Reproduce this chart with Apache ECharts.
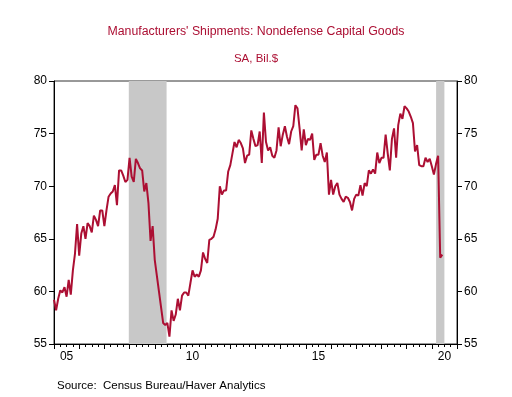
<!DOCTYPE html>
<html>
<head>
<meta charset="utf-8">
<script src="https://cdn.jsdelivr.net/npm/echarts@6/dist/echarts.min.js"></script>
<style>
html,body{margin:0;padding:0;background:#fff;}
#chart{width:512px;height:397px;}
</style>
</head>
<body>
<div id="chart"></div>
<script>
// Monthly values, Jan 2005 .. Jun 2020 (Bil.$, SA)
const startYear = 2005;
const shipments = [
  59.2, 58.2, 59.3, 60.1, 59.9, 60.4, 59.5, 61.1, 59.7, 62.0, 63.6, 66.4,
  63.4, 65.5, 66.2, 65.0, 66.5, 66.2, 65.6, 67.2, 66.8, 66.2, 67.7, 67.7,
  66.2, 67.7, 69.0, 69.3, 69.5, 70.1, 68.2, 71.5, 71.5, 71.0, 70.4, 70.6,
  72.7, 70.9, 70.4, 72.6, 72.2, 71.7, 71.5, 69.5, 70.3, 68.4, 64.8, 66.2,
  63.0, 61.5, 60.0, 58.5, 57.0, 56.8, 57.0, 55.7, 58.2, 57.2, 57.8, 59.3,
  58.2, 59.6, 59.9, 59.9, 59.6, 60.8, 62.0, 61.4, 61.6, 61.4, 62.0, 63.7,
  63.1, 62.7, 64.9, 65.0, 65.2, 65.9, 66.9, 70.0, 69.2, 69.6, 69.6, 71.4,
  72.0, 73.1, 74.2, 73.7, 74.4, 74.1, 73.6, 72.2, 72.9, 73.0, 75.3, 74.5,
  73.8, 73.9, 75.2, 72.2, 77.0, 74.2, 73.4, 73.7, 72.9, 72.7, 73.4, 75.6,
  73.8, 74.9, 75.7, 74.7, 74.0, 75.2, 75.7, 77.7, 77.4, 75.5, 73.4, 75.4,
  73.9, 74.5, 74.4, 75.0, 72.5, 73.0, 73.0, 74.1, 72.9, 72.3, 73.2, 69.2,
  70.6, 69.2, 70.0, 70.3, 69.2, 68.8, 68.5, 69.0, 68.9, 68.5, 67.7, 68.8,
  69.2, 69.1, 70.1, 69.1, 70.3, 70.0, 71.5, 71.2, 71.6, 71.2, 73.2, 72.2,
  72.7, 72.7, 74.9, 73.1, 71.5, 74.5, 75.5, 72.7, 75.8, 76.9, 76.4, 77.6,
  77.4, 77.1, 76.6, 76.0, 73.3, 73.9, 72.0, 71.9, 71.9, 72.7, 72.3, 72.6,
  71.9, 71.1, 72.1, 72.9, 63.2, 63.5
];
// Recession shading (decimal years)
const recessions = [[2007.97, 2009.47], [2020.17, 2020.5]];
// Axis tick labels
const yearLabels = ['05','06','07','08','09','10','11','12','13','14','15','16','17','18','19','20'];
const yTicks = [55, 60, 65, 70, 75, 80];

const seriesData = shipments.map((v, i) => [startYear + i / 12, v]);

const red = '#AC0F33';
const fontFam = '"Liberation Sans", Arial, sans-serif';

const chart = echarts.init(document.getElementById('chart'), null, {renderer: 'canvas'});
const yAxisCommon = {
  type: 'value', min: yTicks[0], max: yTicks[yTicks.length - 1], interval: 5,
  splitLine: {show: false},
  axisLine: {show: true, lineStyle: {color: '#000', width: 1}},
  axisTick: {show: true, inside: false, length: 5, lineStyle: {color: '#000'}},
  axisLabel: {color: '#000', fontSize: 12, fontFamily: fontFam, margin: 7}
};
chart.setOption({
  animation: false,
  backgroundColor: '#fff',
  title: [
    {text: "Manufacturers' Shipments: Nondefense Capital Goods", left: 'center', top: 26, padding: 0,
     textStyle: {color: red, fontSize: 12.3, fontWeight: 'normal', fontFamily: fontFam}},
    {text: 'SA, Bil.$', left: 'center', top: 53, padding: 0,
     textStyle: {color: red, fontSize: 11.5, fontWeight: 'normal', fontFamily: fontFam}},
    {text: 'Source:  Census Bureau/Haver Analytics', left: 57, top: 380, padding: 0,
     textStyle: {color: '#000', fontSize: 11.5, fontWeight: 'normal', fontFamily: fontFam}}
  ],
  grid: {left: 54, right: 55, top: 81, bottom: 53, show: true, borderColor: '#333', borderWidth: 1, backgroundColor: 'transparent'},
  xAxis: [
    {
      type: 'value', min: 2005, max: 2021, interval: 1,
      splitLine: {show: false},
      axisLine: {show: true, lineStyle: {color: '#000', width: 1}},
      axisTick: {show: true, length: 5, lineStyle: {color: '#000'}},
      minorTick: {show: true, splitNumber: 4, length: 3, lineStyle: {color: '#000'}},
      minorSplitLine: {show: false},
      axisLabel: {show: false}
    },
    {
      type: 'category', position: 'bottom', data: yearLabels, boundaryGap: true,
      axisLine: {show: false}, axisTick: {show: false}, splitLine: {show: false},
      axisLabel: {
        color: '#000', fontSize: 12, fontFamily: fontFam, margin: 7,
        interval: (idx) => idx % 5 === 0
      }
    }
  ],
  yAxis: [
    Object.assign({}, yAxisCommon, {position: 'left'}),
    Object.assign({}, yAxisCommon, {position: 'right'})
  ],
  series: [
    {
      type: 'line', xAxisIndex: 0, yAxisIndex: 0, data: [], z: 1, silent: true,
      markArea: {
        silent: true,
        itemStyle: {color: '#C8C8C8'},
        data: recessions.map(r => [{xAxis: r[0]}, {xAxis: r[1]}])
      }
    },
    {
      type: 'line', xAxisIndex: 0, yAxisIndex: 0, data: seriesData, z: 3,
      showSymbol: false, symbol: 'none',
      lineStyle: {color: red, width: 2},
      itemStyle: {color: red}
    }
  ]
});
</script>
</body>
</html>
